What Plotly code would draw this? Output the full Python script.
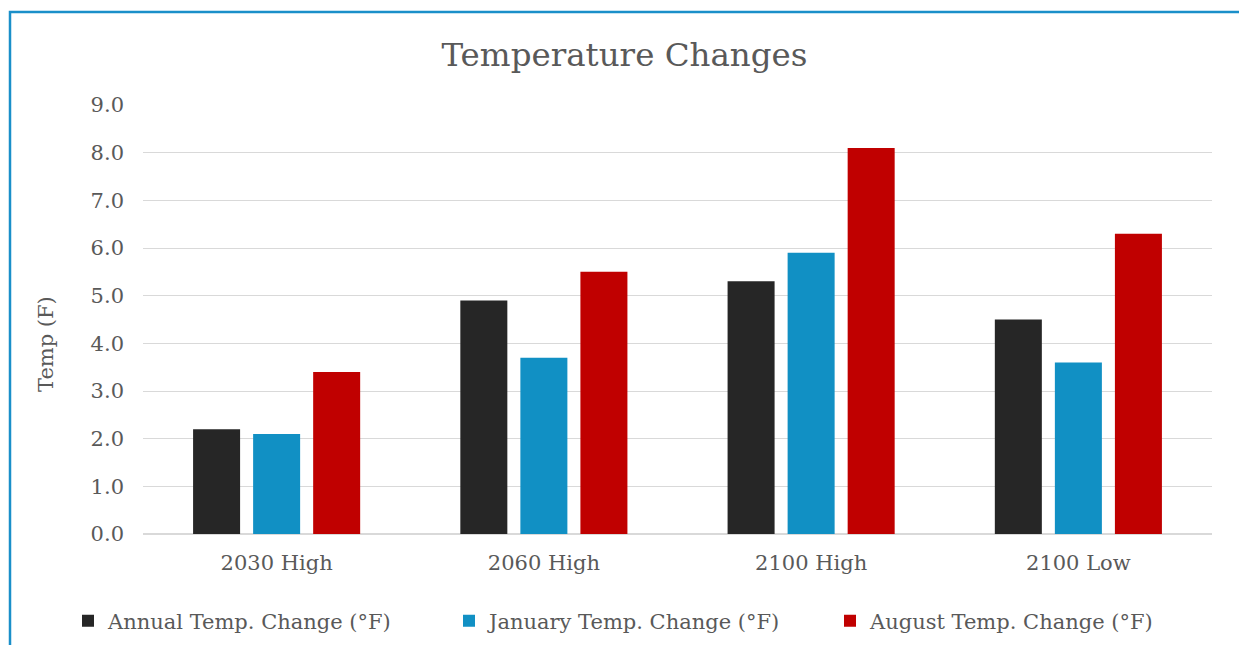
import plotly.graph_objects as go

categories = ["2030 High", "2060 High", "2100 High", "2100 Low"]
annual = [2.2, 4.9, 5.3, 4.5]
january = [2.1, 3.7, 5.9, 3.6]
august = [3.4, 5.5, 8.1, 6.3]
series_names = ["Annual Temp. Change (°F)", "January Temp. Change (°F)", "August Temp. Change (°F)"]
y_ticks = [0, 1, 2, 3, 4, 5, 6, 7, 8, 9]

W, H = 1239, 645
ml, mr, mt, mb = 143, 27, 105, 111
FONT = "DejaVu Serif"
GREY = "#595959"

colors = ["#262626", "#1190c4", "#c00000"]
fig = go.Figure()
for name, vals, c in zip(series_names, [annual, january, august], colors):
    fig.add_trace(go.Bar(x=categories, y=vals, name=name, marker=dict(color=c, line=dict(width=0))))

pw, ph = W - ml - mr, H - mt - mb
def px_x(x):
    return (x - ml) / pw
def px_y(y):
    return (H - mb - y) / ph

fig.update_layout(
    width=W, height=H,
    margin=dict(l=ml, r=mr, t=mt, b=mb, autoexpand=False),
    paper_bgcolor="white", plot_bgcolor="white",
    barmode="group", bargap=0.326, bargroupgap=0.217,
    title=dict(text="Temperature Changes", x=624.5 / W, xanchor="center",
               y=1 - 55 / H, yanchor="middle",
               font=dict(family=FONT, size=32.5, color=GREY)),
    font=dict(family=FONT, color=GREY),
    xaxis=dict(showgrid=False, showline=False, ticks="", tickfont=dict(size=21, color=GREY),
               ticklabelstandoff=14),
    yaxis=dict(range=[0, 9], tickvals=y_ticks, tickformat=".1f", showgrid=True,
               gridcolor="#d9d9d9", gridwidth=1, zeroline=True, zerolinecolor="#d9d9d9",
               tickfont=dict(size=21, color=GREY), ticks="", showline=False,
               ticklabelstandoff=18),
    legend=dict(orientation="h", x=px_x(68), xanchor="left", y=px_y(621), yanchor="middle",
                font=dict(size=21, color=GREY), traceorder="normal", itemwidth=30,
                entrywidth=336, entrywidthmode="pixels"),
    showlegend=True,
)
fig.add_annotation(text="Temp (F)", xref="paper", yref="paper", x=px_x(46), y=px_y(344),
                   xanchor="center", yanchor="middle", textangle=-90, showarrow=False,
                   font=dict(family=FONT, size=21, color=GREY))
fig.add_shape(type="rect", xref="paper", yref="paper",
              x0=px_x(10), x1=px_x(W + 20), y0=px_y(H + 20), y1=px_y(12),
              line=dict(color="#1a8fc9", width=2.5), fillcolor="rgba(0,0,0,0)", layer="below")
fig.write_html("out.html", post_script="document.body.style.margin='0';",
               config={"displayModeBar": False})
